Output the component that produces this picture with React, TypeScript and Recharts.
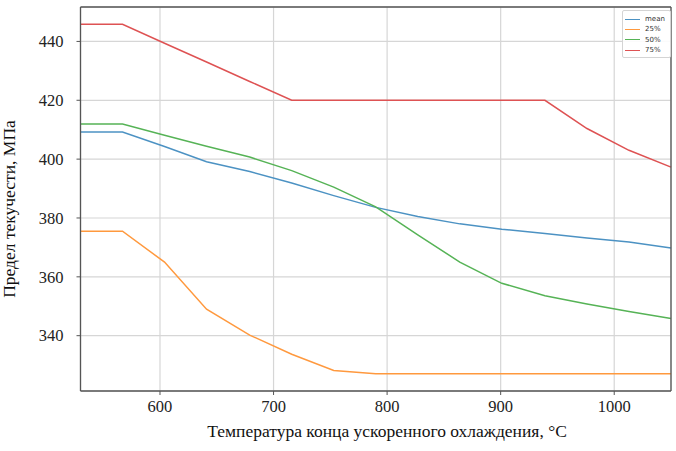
import { CartesianGrid, Label, Legend, Line, LineChart, XAxis, YAxis } from "recharts";

// температура конца ускоренного охлаждения, °C
const temps = [530, 567, 604, 641, 679, 716, 753, 790, 827, 864, 901, 939, 976, 1013, 1050];

// предел текучести, МПа
const meanValues = [409.2, 409.2, 404.3, 399.1, 395.8, 391.9, 387.6, 383.6, 380.5, 378.0, 376.2, 374.7, 373.2, 371.8, 369.8];
const p25Values = [375.5, 375.5, 365.0, 349.0, 340.2, 333.7, 328.2, 327.1, 327.1, 327.1, 327.1, 327.1, 327.1, 327.1, 327.1];
const p50Values = [411.9, 411.9, 408.1, 404.4, 400.7, 396.1, 390.5, 383.8, 374.3, 365.0, 357.8, 353.6, 350.8, 348.2, 345.8];
const p75Values = [445.8, 445.8, 439.4, 433.0, 426.4, 420.0, 420.0, 420.0, 420.0, 420.0, 420.0, 420.0, 410.4, 403.0, 397.3];

const xTicks = [600, 700, 800, 900, 1000];
const yTicks = [340, 360, 380, 400, 420, 440];

const series = [
  { key: "mean", name: "mean", color: "#4c92c3" },
  { key: "p25", name: "25%", color: "#ff993e" },
  { key: "p50", name: "50%", color: "#56b356" },
  { key: "p75", name: "75%", color: "#de5253" }
];

const data = temps.map((t, i) => ({
  t,
  mean: meanValues[i],
  p25: p25Values[i],
  p50: p50Values[i],
  p75: p75Values[i]
}));

const serif = "'Liberation Serif', 'Times New Roman', serif";
const axisColor = "#555555";

function SerifTick({ x, y, payload, textAnchor, dy }: any) {
  return (
    <text
      x={x}
      y={y}
      dy={dy}
      textAnchor={textAnchor}
      fill="#222222"
      fontSize={16.5}
      fontFamily={serif}
    >
      {payload.value}
    </text>
  );
}

function XTick(props: any) {
  return <SerifTick {...props} dy="0.71em" textAnchor="middle" />;
}

function YTick(props: any) {
  return <SerifTick {...props} dy="0.35em" textAnchor="end" />;
}

// legend drawn in series order (recharts sorts its payload by name)
function LegendBox() {
  return (
    <div
      style={{
        background: "rgba(255,255,255,0.9)",
        border: "1px solid #d4d4d4",
        borderRadius: 2,
        padding: "3px 5px 2px 2px",
        fontFamily: "'DejaVu Sans', sans-serif",
        fontSize: 7,
        color: "#333"
      }}
    >
      {series.map((s) => (
        <div key={s.key} style={{ display: "flex", alignItems: "center", height: 10.3 }}>
          <span
            style={{
              display: "inline-block",
              width: 15,
              height: 0,
              borderTop: `1.5px solid ${s.color}`,
              marginRight: 5
            }}
          />
          <span>{s.name}</span>
        </div>
      ))}
    </div>
  );
}

export default function App() {
  return (
    <div style={{ position: "absolute", left: 0, top: 0, background: "#fff" }}>
      <LineChart
        width={676}
        height={451}
        data={data}
        margin={{ top: 6, right: 4, bottom: 0, left: 0 }}
        style={{ fontFamily: serif }}
      >
        <CartesianGrid stroke="#d6d6d6" strokeWidth={1.2} />
        <XAxis
          dataKey="t"
          type="number"
          domain={[530, 1050]}
          ticks={xTicks}
          height={60}
          tick={<XTick />}
          tickSize={4}
          tickMargin={5}
          axisLine={{ stroke: axisColor, strokeWidth: 1.3 }}
          tickLine={{ stroke: axisColor }}
        >
          <Label
            content={() => (
              <text
                x={387}
                y={437}
                textAnchor="middle"
                fill="#111"
                fontSize={17.5}
                fontFamily={serif}
              >
                Температура конца ускоренного охлаждения, °C
              </text>
            )}
          />
        </XAxis>
        <XAxis
          xAxisId="top"
          dataKey="t"
          type="number"
          orientation="top"
          domain={[530, 1050]}
          height={1}
          tick={false}
          tickLine={false}
          axisLine={{ stroke: axisColor, strokeWidth: 1.3 }}
        />
        <YAxis
          type="number"
          domain={[321.2, 451.7]}
          ticks={yTicks}
          width={80.5}
          tick={<YTick />}
          tickSize={4}
          tickMargin={13}
          axisLine={{ stroke: axisColor, strokeWidth: 1.3 }}
          tickLine={{ stroke: axisColor }}
        >
          <Label
            content={() => (
              <text
                x={15}
                y={209}
                transform="rotate(-90 15 209)"
                textAnchor="middle"
                fill="#111"
                fontSize={17.5}
                fontFamily={serif}
              >
                Предел текучести, МПа
              </text>
            )}
          />
        </YAxis>
        <YAxis
          yAxisId="right"
          orientation="right"
          type="number"
          domain={[321.2, 451.7]}
          width={1}
          tick={false}
          tickLine={false}
          axisLine={{ stroke: axisColor, strokeWidth: 1.3 }}
        />
        <Legend
          layout="vertical"
          align="center"
          verticalAlign="middle"
          content={<LegendBox />}
          wrapperStyle={{ position: "absolute", left: 622, top: 10, width: "auto" }}
        />
        {series.map((s) => (
          <Line
            key={s.key}
            type="linear"
            dataKey={s.key}
            name={s.name}
            stroke={s.color}
            strokeWidth={1.5}
            dot={false}
            activeDot={false}
            isAnimationActive={false}
          />
        ))}
      </LineChart>
    </div>
  );
}
